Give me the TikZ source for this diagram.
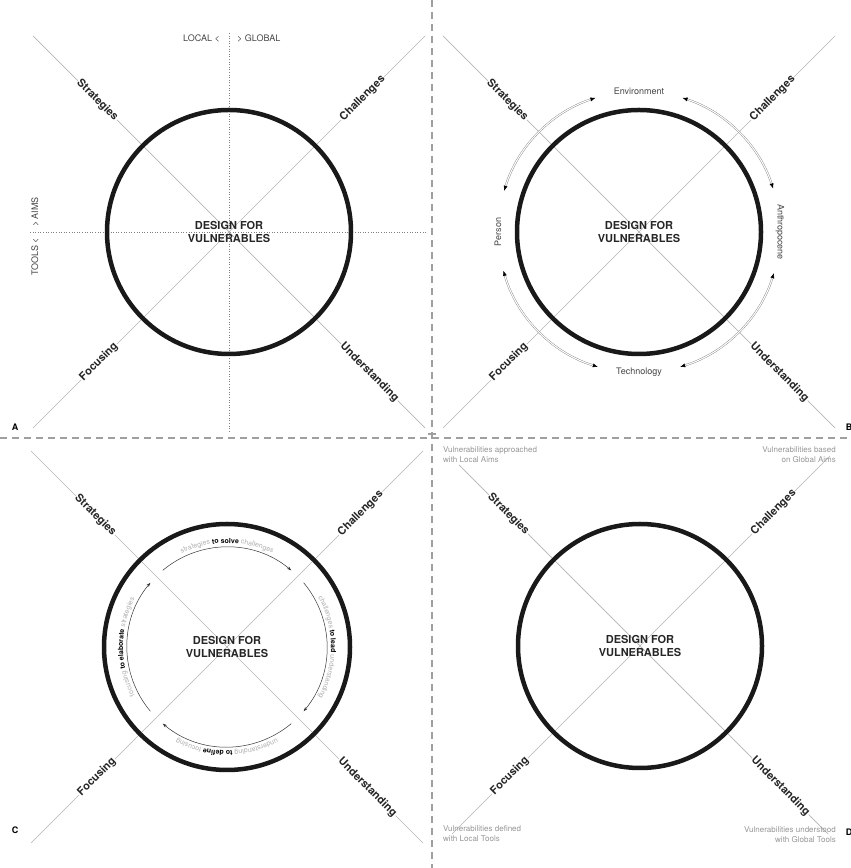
\documentclass[tikz,border=0pt]{standalone}
\usepackage{fontspec}
\setmainfont{TeX Gyre Heros}
\usetikzlibrary{
    arrows.meta,
    positioning,
    calc,
    decorations.text
}
\definecolor{diagGray}{RGB}{180,180,180}
\definecolor{labelGray}{RGB}{70,70,70}
\definecolor{noteGray}{RGB}{150,150,150}
\definecolor{faintGray}{RGB}{175,175,175}
\tikzset{
  ring/.style      = {draw=black!90, line width=4.5pt},
  diag/.style      = {draw=diagGray, line width=0.7pt},
  axisline/.style  = {draw=gray, dotted, line width=0.6pt},
  divider/.style   = {draw=gray!75, dash pattern=on 7pt off 5pt, line width=1.2pt},
  title/.style     = {font=\bfseries\fontsize{11}{13}\selectfont, align=center, text=black!85},
  quad/.style      = {font=\bfseries\fontsize{11}{13}\selectfont, fill=white, inner sep=1pt, text=black!85},
  axlabel/.style   = {font=\fontsize{9}{10}\selectfont, text=labelGray, inner sep=0pt},
  ringlabel/.style = {font=\fontsize{9}{10}\selectfont, text=labelGray, inner sep=0pt},
  note/.style      = {font=\fontsize{8}{10.5}\selectfont, text=noteGray, inner sep=0pt},
  panel/.style     = {font=\bfseries\fontsize{9}{10}\selectfont, inner sep=0pt},
  dblarr/.style    = {draw=gray, double=white, double distance=1.1pt, line width=0.4pt,
                      {Latex[black, length=5pt, width=4pt]}-{Latex[black, length=5pt, width=4pt]}},
  flow/.style      = {draw=black!80, line width=0.5pt, -{Stealth[length=4.5pt, width=3pt]}}
}

\begin{document}
\begin{tikzpicture}[x=1pt, y=1pt]
\useasboundingbox (0,0) rectangle (851,868);

% --- DIVIDERS ---
\coordinate (div-t) at (432,868);
\coordinate (div-b) at (432,0);
\coordinate (div-l) at (0,430);
\coordinate (div-r) at (851,430);
\draw[divider] (div-t) -- (div-b);
\draw[divider] (div-l) -- (div-r);
\draw[gray!75, line width=1.2pt] ($(div-b)!0.5!(div-t)+(-4,0)$) -- ++(8,0);

% --- PANEL A ---
\begin{scope}[shift={(229,636)}]
  \coordinate (a-c) at (0,0);
  \coordinate (a-nw) at (-196,196);
  \coordinate (a-ne) at (196,196);
  \coordinate (a-sw) at (-196,-196);
  \coordinate (a-se) at (196,-196);
  \coordinate (a-n) at (0,199);
  \coordinate (a-s) at (0,-200);
  \coordinate (a-w) at (-199,0);
  \coordinate (a-e) at (197,0);
  \draw[axisline] (a-n) -- (a-s);
  \draw[axisline] (a-w) -- (a-e);
  \draw[diag] (a-nw) -- (a-se);
  \draw[diag] (a-ne) -- (a-sw);
  \draw[ring] (a-c) circle[radius=122];
  \node[title] (a-title) at (a-c) {DESIGN FOR\\VULNERABLES};
  \node[quad, rotate=-45, anchor=east] (a-str) at (-112,112) {Strategies};
  \node[quad, rotate=45, anchor=west]  (a-cha) at (112,112) {Challenges};
  \node[quad, rotate=45, anchor=east]  (a-foc) at (-112,-112) {Focusing};
  \node[quad, rotate=-45, anchor=west] (a-und) at (112,-112) {Understanding};
  % axis labels
  \node[axlabel, anchor=east] (a-local) at (-9,194) {LOCAL <};
  \node[axlabel, anchor=west] (a-global) at (8,194) {> GLOBAL};
  \node[axlabel, rotate=90, anchor=east] (a-tools) at (-194,-6) {TOOLS <};
  \node[axlabel, rotate=90, anchor=west] (a-aims) at (-194,5) {> AIMS};
\end{scope}

% --- PANEL B ---
\begin{scope}[shift={(639,636)}]
  \coordinate (b-c) at (0,0);
  \coordinate (b-nw) at (-196,196);
  \coordinate (b-ne) at (196,196);
  \coordinate (b-sw) at (-196,-196);
  \coordinate (b-se) at (196,-196);
  \draw[diag] (b-nw) -- (b-se);
  \draw[diag] (b-ne) -- (b-sw);
  \draw[ring] (b-c) circle[radius=122];
  \node[title] (b-title) at (b-c) {DESIGN FOR\\VULNERABLES};
  \node[quad, rotate=-45, anchor=east] (b-str) at (-112,112) {Strategies};
  \node[quad, rotate=45, anchor=west]  (b-cha) at (112,112) {Challenges};
  \node[quad, rotate=45, anchor=east]  (b-foc) at (-112,-112) {Focusing};
  \node[quad, rotate=-45, anchor=west] (b-und) at (112,-112) {Understanding};
  % ring labels
  \node[ringlabel] (b-env) at (0,141) {Environment};
  \node[ringlabel] (b-tec) at (0,-140) {Technology};
  \node[ringlabel, rotate=90] (b-per) at (-141,0) {Person};
  \node[ringlabel, rotate=-90] (b-ant) at (141,0) {Anthropocene};
  % double arrows
  \draw[dblarr] (18:141) arc[start angle=18, end angle=72, radius=141];
  \draw[dblarr] (108:141) arc[start angle=108, end angle=163, radius=141];
  \draw[dblarr] (196:141) arc[start angle=196, end angle=253, radius=141];
  \draw[dblarr] (287:141) arc[start angle=287, end angle=343, radius=141];
\end{scope}

% --- PANEL C ---
\begin{scope}[shift={(227,221)}]
  \coordinate (c-c) at (0,0);
  \coordinate (c-nw) at (-196,196);
  \coordinate (c-ne) at (196,196);
  \coordinate (c-sw) at (-196,-196);
  \coordinate (c-se) at (196,-196);
  \draw[diag] (c-nw) -- (c-se);
  \draw[diag] (c-ne) -- (c-sw);
  \draw[ring] (c-c) circle[radius=123];
  \node[title] (c-title) at (c-c) {DESIGN FOR\\VULNERABLES};
  \node[quad, rotate=-45, anchor=east] (c-str) at (-112,112) {Strategies};
  \node[quad, rotate=45, anchor=west]  (c-cha) at (112,112) {Challenges};
  \node[quad, rotate=45, anchor=east]  (c-foc) at (-112,-112) {Focusing};
  \node[quad, rotate=-45, anchor=west] (c-und) at (112,-112) {Understanding};
  % flow arrows
  \draw[flow] (130:100) arc[start angle=130, end angle=50, radius=100];
  \draw[flow] (40:100) arc[start angle=40, end angle=-40, radius=100];
  \draw[flow] (-50:100) arc[start angle=-50, end angle=-130, radius=100];
  \draw[flow] (220:100) arc[start angle=220, end angle=140, radius=100];
  % flow texts
  \path[decorate, decoration={text along path, text align=center,
    text={|\fontsize{7}{8}\selectfont\color{faintGray}|strategies |\fontsize{7}{8}\selectfont\bfseries\color{black}|to solve |\fontsize{7}{8}\selectfont\color{faintGray}|challenges}}]
    (130:104) arc[start angle=130, end angle=50, radius=104];
  \path[decorate, decoration={text along path, text align=center,
    text={|\fontsize{7}{8}\selectfont\color{faintGray}|challenges |\fontsize{7}{8}\selectfont\bfseries\color{black}|to lead |\fontsize{7}{8}\selectfont\color{faintGray}|understanding}}]
    (40:104) arc[start angle=40, end angle=-40, radius=104];
  \path[decorate, decoration={text along path, text align=center,
    text={|\fontsize{7}{8}\selectfont\color{faintGray}|understanding |\fontsize{7}{8}\selectfont\bfseries\color{black}|to define |\fontsize{7}{8}\selectfont\color{faintGray}|focusing}}]
    (-50:104) arc[start angle=-50, end angle=-130, radius=104];
  \path[decorate, decoration={text along path, text align=center,
    text={|\fontsize{7}{8}\selectfont\color{faintGray}|focusing |\fontsize{7}{8}\selectfont\bfseries\color{black}|to elaborate |\fontsize{7}{8}\selectfont\color{faintGray}|strategies}}]
    (220:104) arc[start angle=220, end angle=140, radius=104];
\end{scope}

% --- PANEL D ---
\begin{scope}[shift={(640,222)}]
  \coordinate (d-c) at (0,0);
  \coordinate (d-nw) at (-181,181);
  \coordinate (d-ne) at (190,190);
  \coordinate (d-sw) at (-188,-188);
  \coordinate (d-se) at (188,-188);
  \draw[diag] (d-nw) -- (d-se);
  \draw[diag] (d-ne) -- (d-sw);
  \draw[ring] (d-c) circle[radius=122];
  \node[title] (d-title) at (d-c) {DESIGN FOR\\VULNERABLES};
  \node[quad, rotate=-45, anchor=east] (d-str) at (-112,112) {Strategies};
  \node[quad, rotate=45, anchor=west]  (d-cha) at (112,112) {Challenges};
  \node[quad, rotate=45, anchor=east]  (d-foc) at (-112,-112) {Focusing};
  \node[quad, rotate=-45, anchor=west] (d-und) at (112,-112) {Understanding};
\end{scope}
\node[note, anchor=north west, align=left]  (d-la) at (443,422) {Vulnerabilities approached\\with Local Aims};
\node[note, anchor=north east, align=right] (d-ga) at (836,422) {Vulnerabilities based\\on Global Aims};
\node[note, anchor=south west, align=left]  (d-lt) at (443,26) {Vulnerabilities defined\\with Local Tools};
\node[note, anchor=south east, align=right] (d-gt) at (836,25) {Vulnerabilities understood\\with Global Tools};

% --- PANEL LETTERS ---
\node[panel] (lab-a) at (15,441) {A};
\node[panel] (lab-b) at (849,441) {B};
\node[panel] (lab-c) at (15,38) {C};
\node[panel] (lab-d) at (849,36) {D};
\end{tikzpicture}
\end{document}
